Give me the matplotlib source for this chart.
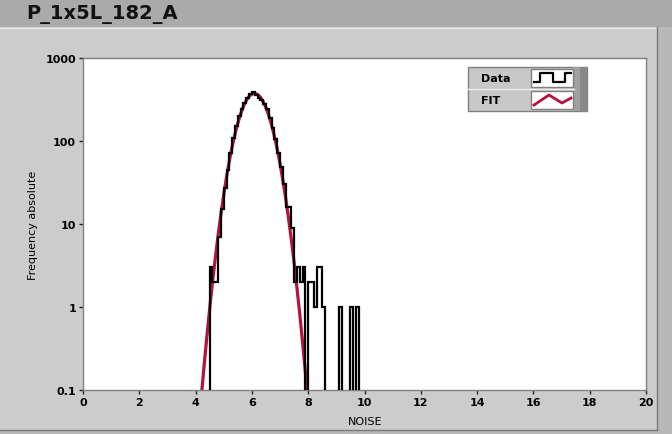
import numpy as np
import matplotlib
matplotlib.use("Agg")
import matplotlib.pyplot as plt
from matplotlib.patches import Rectangle
from matplotlib.lines import Line2D

# ---- data ----
title = "P_1x5L_182_A"
bin_start = 4.5
bin_width = 0.1
counts = [3, 2, 2, 7, 15,
          27, 45, 72, 110, 150, 200, 245, 290, 330, 365,
          385, 360, 330, 315, 280, 240, 190, 145, 105, 72,
          48, 30, 16, 16, 9, 2, 3, 2, 3, 0,
          2, 2, 1, 3, 3, 1, 0, 0, 0, 0,
          0, 1, 0, 0, 0, 1, 0, 1]
fit_x = [4.2, 4.3, 4.4, 4.5, 4.6, 4.7, 4.8, 4.9, 5.0, 5.1, 5.2, 5.3, 5.4, 5.5,
         5.6, 5.7, 5.8, 5.9, 6.0, 6.1, 6.2, 6.3, 6.4, 6.5, 6.6, 6.7, 6.8, 6.9,
         7.0, 7.1, 7.2, 7.3, 7.4, 7.5, 7.6, 7.7, 7.8, 7.9, 8.0]
fit_y = [0.081, 0.193, 0.439, 0.953, 1.98, 3.90, 7.35, 13.2, 22.6, 37.0, 57.7,
         85.8, 121.8, 164.7, 212.6, 261.8, 307.4, 344.3, 367.9, 375.0, 364.4,
         337.9, 298.8, 252.1, 202.8, 155.7, 114.0, 79.6, 53.0, 33.7, 20.4, 11.8,
         6.50, 3.42, 1.71, 0.821, 0.374, 0.163, 0.0675]
x_ticks = [0, 2, 4, 6, 8, 10, 12, 14, 16, 18, 20]
y_ticks = [0.1, 1, 10, 100, 1000]
y_ticklabels = ["0.1", "1", "10", "100", "1000"]
x_label = "NOISE"
y_label = "Frequency absolute"
legend_labels = ["Data", "FIT"]

# ---- figure ----
W, H = 672, 435
fig = plt.figure(figsize=(W / 100, H / 100), dpi=100)
fig.patch.set_facecolor("#aaaaaa")

def fx(px):
    return px / W

def fy(py):
    return 1 - py / H

def rect(x0, y0, x1, y1, **kw):
    r = Rectangle((fx(x0), fy(y1)), fx(x1) - fx(x0), fy(y0) - fy(y1),
                  transform=fig.transFigure, **kw)
    fig.add_artist(r)
    return r

# panel
rect(0, 28, 672, 435, facecolor="#b8b8b8", edgecolor="none", zorder=0)
rect(0, 28, 657, 431, facecolor="#cccccc", edgecolor="none", zorder=0)
fig.add_artist(Line2D([fx(0), fx(657)], [fy(28.5), fy(28.5)], color="#e8e8e8",
                      lw=1, transform=fig.transFigure, zorder=1))
fig.add_artist(Line2D([fx(657), fx(657)], [fy(28), fy(431)], color="#7a7a7a",
                      lw=1, transform=fig.transFigure, zorder=1))
fig.add_artist(Line2D([fx(0), fx(657)], [fy(431), fy(431)], color="#7a7a7a",
                      lw=1, transform=fig.transFigure, zorder=1))

fig.text(fx(26), fy(14), title, fontsize=14, fontweight="bold",
         ha="left", va="center", color="#111111")

ax = fig.add_axes([fx(83), fy(391), fx(646) - fx(83), fy(59) - fy(391)])
ax.set_facecolor("white")

counts_arr = np.array(counts, dtype=float)
edges = bin_start + bin_width * np.arange(len(counts) + 1)
vals = np.where(counts_arr > 0, counts_arr, 1e-3)
ax.stairs(vals, edges, baseline=1e-3, color="black", lw=1.6, zorder=3)
ax.plot(fit_x, fit_y, color="#b5123f", lw=2.3, zorder=2, solid_capstyle="butt")

ax.set_yscale("log")
ax.set_xlim(0, 20)
ax.set_ylim(0.1, 1000)
ax.set_xticks(x_ticks)
ax.set_xticklabels([str(t) for t in x_ticks], fontsize=8, fontweight="bold")
ax.set_yticks(y_ticks)
ax.set_yticklabels(y_ticklabels, fontsize=8, fontweight="bold")
ax.yaxis.set_minor_locator(matplotlib.ticker.NullLocator())
ax.tick_params(direction="out", length=3, width=1, color="#222222", pad=2)
for s in ax.spines.values():
    s.set_color("#808080")
    s.set_linewidth(1)

fig.text(fx(365), fy(422), x_label, fontsize=8, ha="center", va="center")
fig.text(fx(33), fy(225), y_label, fontsize=8, ha="center", va="center",
         rotation=90)

# legend
rect(468, 68, 587, 112, facecolor="#c8c8c8", edgecolor="#808080", lw=1, zorder=5)
rect(574, 68, 587, 112, facecolor="#a0a0a0", edgecolor="none", zorder=5)
rect(580, 68, 587, 112, facecolor="#888888", edgecolor="none", zorder=5)
fig.add_artist(Line2D([fx(468), fx(574)], [fy(90), fy(90)], color="#f0f0f0",
                      lw=1, transform=fig.transFigure, zorder=6))
fig.text(fx(481), fy(79), legend_labels[0], fontsize=8, fontweight="bold",
         ha="left", va="center", zorder=7)
fig.text(fx(481), fy(101), legend_labels[1], fontsize=8, fontweight="bold",
         ha="left", va="center", zorder=7)
rect(531, 70, 573, 88, facecolor="white", edgecolor="#808080", lw=1, zorder=6)
rect(531, 92, 573, 110, facecolor="white", edgecolor="#808080", lw=1, zorder=6)
sx = [534, 540, 540, 553, 553, 565, 565, 571]
sy = [83, 83, 74, 74, 83, 83, 74, 74]
fig.add_artist(Line2D([fx(v) for v in sx], [fy(v) for v in sy], color="black",
                      lw=1.6, transform=fig.transFigure, zorder=7))
zx = [534, 549, 562, 571]
zy = [106, 96, 104, 99]
fig.add_artist(Line2D([fx(v) for v in zx], [fy(v) for v in zy], color="#b5123f",
                      lw=2.0, transform=fig.transFigure, zorder=7))

fig.savefig("out.png", dpi=100, facecolor=fig.get_facecolor())
